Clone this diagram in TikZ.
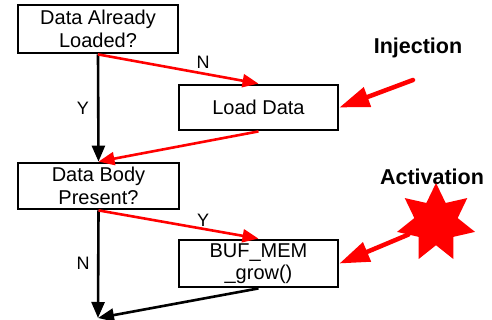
\documentclass[tikz,border=0pt]{standalone}
\usepackage{fontspec}
\setmainfont{Liberation Sans}
\usetikzlibrary{calc}
\usetikzlibrary{shapes}
\usetikzlibrary{arrows.meta}

\begin{document}
\begin{tikzpicture}[x=1pt, y=-1pt,
  box/.style={draw, line width=2.8pt, align=center, inner sep=0pt, font=\fontsize{20}{22.5}\selectfont},
  flow/.style={line width=2.6pt, -{Triangle[length=16pt,width=13pt]}},
  redflow/.style={flow, red},
  lbl/.style={font=\fontsize{18}{20}\selectfont},
  big/.style={font=\bfseries\fontsize{21.5}{24}\selectfont},
  hit/.style={red, line width=4.5pt, line cap=round, -{Triangle[length=30pt,width=20pt]}}]
\useasboundingbox (0,0) rectangle (492,320);
\node[name=loaded, box, minimum width=160pt, minimum height=48pt] at (98,29) {Data Already\\Loaded?};
\node[name=load, box, minimum width=159pt, minimum height=45pt] at (258.5,107.5) {Load Data};
\node[name=body, box, minimum width=161pt, minimum height=46pt] at (98.5,186) {Data Body\\Present?};
\node[name=grow, box, minimum width=159pt, minimum height=47pt] at (258.5,263.5) {BUF\_MEM\\\_grow()};
\coordinate (done) at (98,318);
\draw[flow] (loaded.south) to (body.north);
\draw[redflow] (loaded.south) to (load.north);
\draw[redflow] (load.south) to (body.north);
\draw[flow] (body.south) to (done);
\draw[redflow] (body.south) to (grow.north);
\draw[flow] (grow.south) to (done);
\node[name=n1, lbl] at (203,62) {N};
\node[name=y1, lbl] at (83,108) {Y};
\node[name=y2, lbl] at (203,220) {Y};
\node[name=n2, lbl] at (83,263) {N};
\node[name=inj, big] at (418,48) {Injection};
\node[name=act, big] at (432,177) {Activation};
\coordinate (injfrom) at (413,80);
\draw[hit] (injfrom) to (load.east);
\node[name=spark, star, star points=7, star point ratio=1.8, fill=red, inner sep=0pt, minimum size=80pt] at (436,223) {};
\draw[hit] (spark) to (grow.east);
\end{tikzpicture}
\end{document}
